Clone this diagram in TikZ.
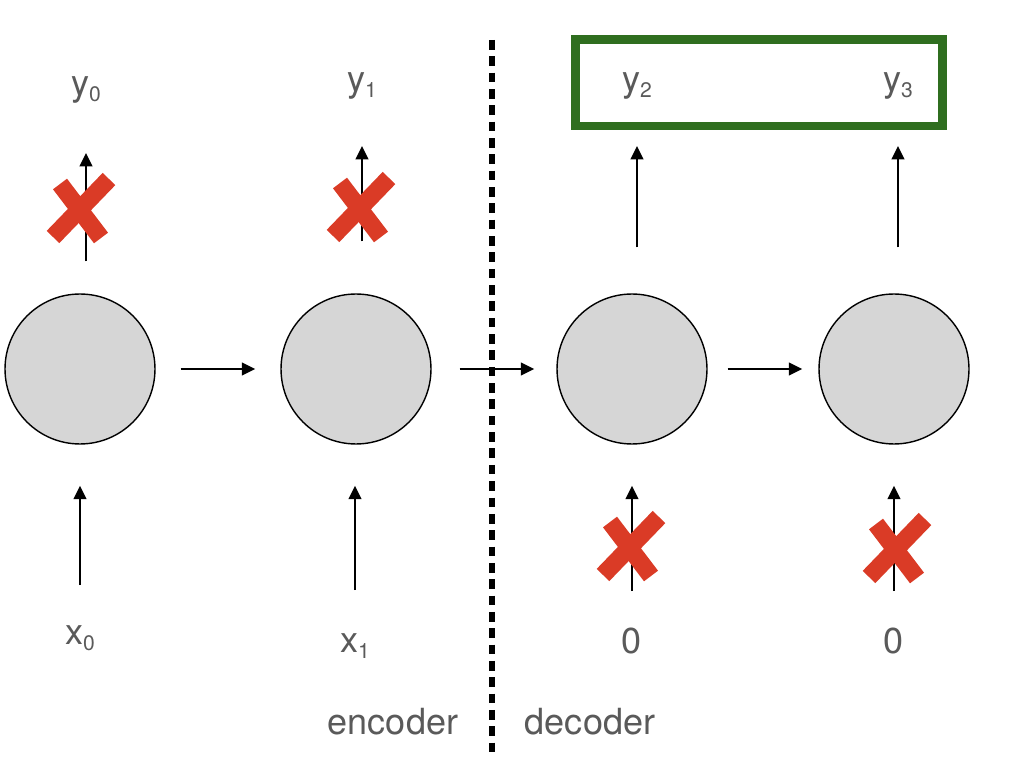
\documentclass[tikz,border=0pt]{standalone}
\usepackage{fontspec}
\setmainfont{TeX Gyre Heros}
\usetikzlibrary{arrows.meta}

\definecolor{textgray}{HTML}{5A5A5A}
\definecolor{cellgray}{HTML}{D6D6D6}
\definecolor{boxgreen}{HTML}{2F6E1F}
\definecolor{crossred}{HTML}{DA3B26}

\def\unit{0.02cm}
\newcommand\subidx[1]{\raisebox{-3.5pt}{\fontsize{12}{14}\selectfont #1}}

\begin{document}
\begin{tikzpicture}[%
	x=\unit, y=-\unit,%
	cell/.style ={circle, draw, fill=cellgray, line width=0.8pt, minimum size=3cm, inner sep=0pt},%
	tag/.style ={text=textgray, font=\fontsize{20.5}{24}\selectfont, inner sep=0pt},%
	arr/.style ={-{Triangle[length=0.27cm,width=0.25cm]}, line width=1.6pt},%
	cross/.style ={crossred, line width=10pt},%
	divider/.style ={line width=3pt, dash pattern=on 5.5pt off 3.8pt},%
	]
	\useasboundingbox (0,0) rectangle (1014,776);
%%% cells
	\node [cell] (c0) at (80,369) {};
	\node [cell] (c1) at (356,369) {};
	\node [cell] (c2) at (632,369) {};
	\node [cell] (c3) at (894,369) {};
%%% cells
%%% labels
	\node [tag] (y0) at (86,90) {y\subidx{0}};
	\node [tag] (y1) at (362,86) {y\subidx{1}};
	\node [tag] (y2) at (637,86) {y\subidx{2}};
	\node [tag] (y3) at (898,86) {y\subidx{3}};
	\node [tag] (x0) at (80,638) {x\subidx{0}};
	\node [tag] (x1) at (355,646) {x\subidx{1}};
	\node [tag] (z2) at (632,641) {0};
	\node [tag] (z3) at (894,641) {0};
	\node [tag] (enc) at (393,722) {encoder};
	\node [tag] (dec) at (590,722) {decoder};
%%% labels
%%% arrows
	\foreach \a/\b/\s/\e in {c0/c1/0.5/0.5, c1/c2/0.56/0.44, c2/c3/0.4/0.32}
		{\draw [arr, shorten <=\s cm, shorten >=\e cm] (\a) -- (\b);}
	\foreach \c/\l/\s/\e in {c0/y0/0.64/1.26, c1/y1/1.04/1.2, c2/y2/0.92/1.2, c3/y3/0.92/1.2}
		{\draw [arr, shorten <=\s cm, shorten >=\e cm] (\c.north -| \l.center) -- (\l.center);}
	\foreach \l/\c/\s/\e in {x0/c0/1.06/0.82, x1/c1/1.12/0.82, z2/c2/1.0/0.82, z3/c3/1.0/0.82}
		{\draw [arr, shorten <=\s cm, shorten >=\e cm] (\l.center) -- (\l.center |- \c.south);}
%%% arrows
%%% crosses
	\foreach \cx/\cy in {81/209, 361/208, 631/547, 897/549}
		{\draw [cross] (\cx-28,\cy+28) -- (\cx+28,\cy-30);
		 \draw [cross] (\cx-21,\cy-25) -- (\cx+20,\cy+29);}
%%% crosses
%%% box and divider
	\draw [boxgreen, line width=5.1pt] (575.5,39.5) rectangle (942.5,126);
	\draw [divider] (492,40) -- (492,755);
%%% box and divider
\end{tikzpicture}
\end{document}
